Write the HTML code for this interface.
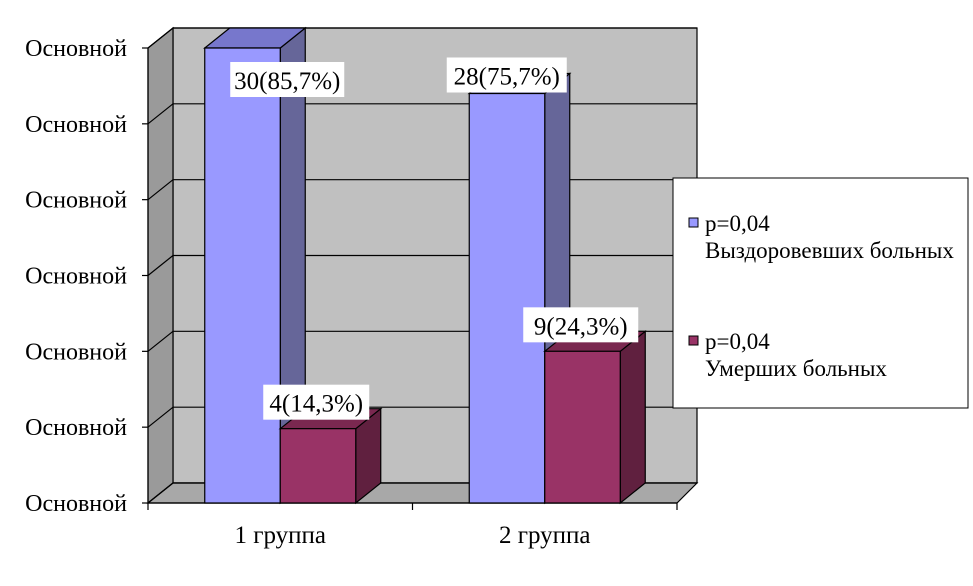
<!DOCTYPE html>
<html><head><meta charset="utf-8"><style>
body{margin:0;background:#fff}
svg{display:block;font-family:"Liberation Serif",serif}
</style></head><body>
<svg id="c" width="973" height="586"></svg>
<script>
const categories=["1 группа","2 группа"];
const recovered=[30,27];
const died=[4.9,10];
const recoveredLabels=["30(85,7%)","28(75,7%)"];
const diedLabels=["4(14,3%)","9(24,3%)"];
const yTickLabels=["Основной","Основной","Основной","Основной","Основной","Основной","Основной"];
const yMax=30;

const NS="http://www.w3.org/2000/svg";
const svg=document.getElementById('c');
const X0=148,X1=677,Y0=503,Y1=48,DX=25,DY=-20;
const y=v=>Y0-(v/yMax)*(Y0-Y1);
const catW=(X1-X0)/categories.length;
const barW=75.5;
function el(t,a,p){const e=document.createElementNS(NS,t);for(const k in a)e.setAttribute(k,a[k]);(p||svg).appendChild(e);return e;}
function poly(pts,fill,name){const e=el('polygon',{points:pts.map(p=>p.join(',')).join(' '),fill:fill,stroke:'#000','stroke-width':1.2});

return e;}
const XR=X1+DX-5;
poly([[X0+DX,Y1+DY],[XR,Y1+DY],[XR,Y0+DY],[X0+DX,Y0+DY]],'#c0c0c0','back-wall');
poly([[X0,Y1],[X0+DX,Y1+DY],[X0+DX,Y0+DY],[X0,Y0]],'#9a9a9a','side-wall');
poly([[X0,Y0],[X0+DX,Y0+DY],[XR,Y0+DY],[X1,Y0]],'#a8a8a8','floor');
for(let i=0;i<yTickLabels.length;i++){
  const v=i*yMax/(yTickLabels.length-1), yy=y(v);
  const g=el('polyline',{points:`${X0},${yy} ${X0+DX},${yy+DY} ${XR},${yy+DY}`,fill:'none',stroke:'#000','stroke-width':1.2});
  
  
  const tk=el('line',{x1:X0-6,y1:yy,x2:X0,y2:yy,stroke:'#000','stroke-width':1.2});
  
  
  const t=el('text',{x:127,y:yy+8,'text-anchor':'end','font-size':24});
  t.textContent=yTickLabels[i];
  
  
}
el('line',{x1:X0,y1:Y0,x2:X1,y2:Y0,stroke:'#000','stroke-width':1.2});
el('line',{x1:X0,y1:Y1,x2:X0,y2:Y0,stroke:'#000','stroke-width':1.2});
for(let i=0;i<=categories.length;i++){el('line',{x1:X0+i*catW,y1:Y0,x2:X0+i*catW,y2:Y0+7,stroke:'#000','stroke-width':1.2});}
function bar(x,v,front,side,top,name){
  const yt=y(v);
  poly([[x+barW,yt],[x+barW+DX,yt+DY],[x+barW+DX,Y0+DY],[x+barW,Y0]],side,name+'-side');
  poly([[x,yt],[x+DX,yt+DY],[x+barW+DX,yt+DY],[x+barW,yt]],top,name+'-top');
  poly([[x,yt],[x+barW,yt],[x+barW,Y0],[x,Y0]],front,name);
}
function label(cx,yy,txt,w,name){
  const r=el('rect',{x:cx-w/2,y:yy,width:w,height:35,fill:'#fff'});
  
  
  const t=el('text',{x:cx,y:yy+27,'text-anchor':'middle','font-size':25});
  t.textContent=txt;
  
  
}
categories.forEach((c,i)=>{
  const cx=X0+catW*(i+0.5);
  bar(cx-barW,recovered[i],'#9999ff','#666699','#7777cc','bar-recovered-'+(i+1));
  bar(cx,died[i],'#993366','#60203f','#7a2850','bar-died-'+(i+1));
  const t=el('text',{x:cx,y:543,'text-anchor':'middle','font-size':25});
  t.textContent=c;
  
  
});
categories.forEach((c,i)=>{
  const cx=X0+catW*(i+0.5);
  label(i?cx-38:cx+7,y(recovered[i])+(i?-36:14),recoveredLabels[i],i?120:114,'value-label-recovered-'+(i+1));
  label(cx+36,y(died[i])-44,diedLabels[i],i?115:106,'value-label-died-'+(i+1));
});
const lg=el('g',{});


el('rect',{x:673,y:178,width:295,height:230,fill:'#fff',stroke:'#000','stroke-width':1},lg);
const items=[['#9999ff','Выздоровевших больных',218],['#993366','Умерших больных',336]];
items.forEach((it,i)=>{
  const g=el('g',{},lg);
  
  
  el('rect',{x:689,y:it[2],width:9,height:9,fill:it[0],stroke:'#000','stroke-width':1},g);
  const t1=el('text',{x:705,y:it[2]+13,'font-size':23},g);t1.textContent='p=0,04';
  const t2=el('text',{x:705,y:it[2]+40,'font-size':23},g);t2.textContent=it[1];
});
</script>
</body></html>
